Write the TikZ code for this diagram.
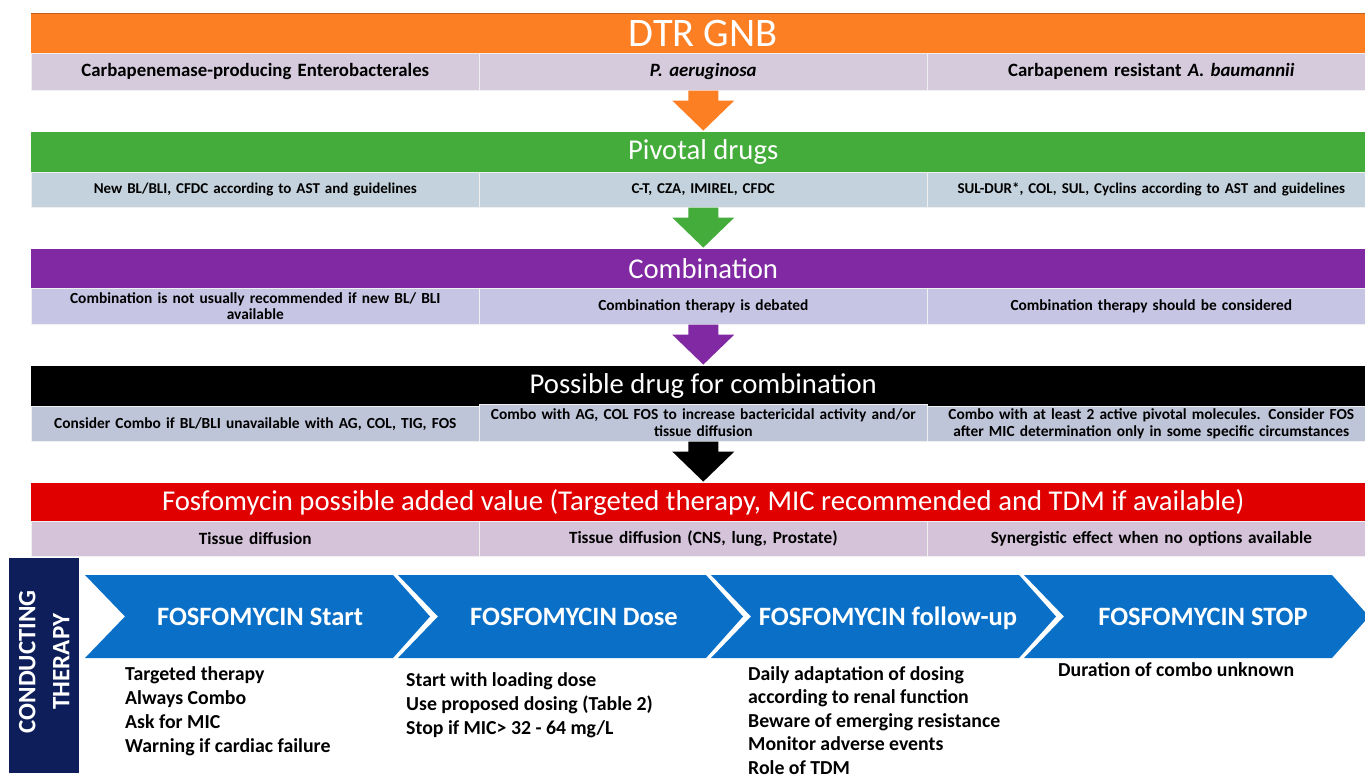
\documentclass[tikz,border=0pt]{standalone}
\usepackage{fontspec}
\setmainfont{Carlito}
\usetikzlibrary{calc}
\definecolor{corange}{HTML}{FD7F23}
\definecolor{cgreen}{HTML}{43AC3A}
\definecolor{cpurple}{HTML}{8029A2}
\definecolor{cred}{HTML}{E00000}
\definecolor{crowa}{HTML}{D5CBDD}
\definecolor{crowb}{HTML}{C3D2DC}
\definecolor{crowc}{HTML}{C6C5E3}
\definecolor{crowd}{HTML}{BFC5D9}
\definecolor{crowe}{HTML}{D5C3DA}
\definecolor{cblue}{HTML}{0A70C7}
\definecolor{cnavy}{HTML}{0D1E5B}
\begin{document}
\begin{tikzpicture}[x=1pt,y=-1pt,
  band/.style={anchor=north west, minimum width=1344, minimum height=#1, inner sep=0, text=white, font=\fontsize{28.7}{30}\selectfont},
  cell/.style={anchor=north west, minimum width=448, minimum height=#1, inner sep=0, align=center, text width=446, draw=white!70!gray!40, line width=0.6, font=\bfseries\fontsize{15.4}{16.5}\selectfont},
  chevtext/.style={anchor=base, text=white, font=\bfseries\fontsize{26.5}{30}\selectfont, inner sep=0},
  listtext/.style={anchor=north west, align=left, inner sep=0, font=\bfseries\fontsize{19.8}{24}\selectfont},
  pics/downarrow/.style={code={\fill[#1] (-15,0) -- (15,0) -- (15,10) -- (31,10) -- (0,40) -- (-31,10) -- (-15,10) -- cycle;}},
  pics/chevron/.style={code={\fill[cblue] (0,0) -- (308,0) -- (345,41.5) -- (308,83) -- (0,83) -- (40,41.5) -- cycle;}}
]
\useasboundingbox (0,0) rectangle (1365,778);

% Row 1
\node[band=40, fill=corange, font=\fontsize{40.5}{42}\selectfont] (b1) at (31,13) {DTR GNB};
\draw[corange!75!black, line width=0.8] (b1.north west) -- (b1.north east);
\node[cell=37, fill=crowa, font=\bfseries\fontsize{18.8}{20}\selectfont] (r1a) at (31,53) {Carbapenemase-producing Enterobacterales};
\node[cell=37, fill=crowa, font=\bfseries\fontsize{18.8}{20}\selectfont] (r1b) at (479,53) {\itshape P. aeruginosa};
\node[cell=37, fill=crowa, font=\bfseries\fontsize{18.8}{20}\selectfont] (r1c) at (927,53) {Carbapenem resistant \textit{A. baumannii}};
\pic at (r1b.south) {downarrow=corange};

% Row 2
\node[band=40, fill=cgreen] (b2) at (31,132) {Pivotal drugs};
\node[cell=35, fill=crowb, font=\bfseries\fontsize{15}{16}\selectfont] (r2a) at (31,172) {New BL/BLI, CFDC according to AST and guidelines};
\node[cell=35, fill=crowb, font=\bfseries\fontsize{15}{16}\selectfont] (r2b) at (479,172) {C-T, CZA, IMIREL, CFDC};
\node[cell=35, fill=crowb, font=\bfseries\fontsize{15}{16}\selectfont] (r2c) at (927,172) {SUL-DUR*, COL, SUL, Cyclins according to AST and guidelines};
\pic at (r2b.south) {downarrow=cgreen};

% Row 3
\node[band=39, fill=cpurple] (b3) at (31,249) {Combination};
\node[cell=36, fill=crowc] (r3a) at (31,288) {Combination is not usually recommended if new BL/ BLI\\available};
\node[cell=36, fill=crowc] (r3b) at (479,288) {Combination therapy is debated};
\node[cell=36, fill=crowc] (r3c) at (927,288) {Combination therapy should be considered};
\pic at (r3b.south) {downarrow=cpurple};

% Row 4
\node[band=40, fill=black] (b4) at (31,366) {Possible drug for combination};
\node[cell=35, fill=crowd] (r4a) at (31,406) {Consider Combo if BL/BLI unavailable with AG, COL, TIG, FOS};
\node[cell=37, fill=crowd] (r4b) at (479,404) {Combo with AG, COL FOS to increase bactericidal activity and/or\\tissue diffusion};
\node[cell=35, fill=crowd] (r4c) at (927,406) {Combo with at least 2 active pivotal molecules. Consider FOS\\after MIC determination only in some specific circumstances};
\pic at (r4b.south) {downarrow=black};

% Row 5
\node[band=38, fill=cred] (b5) at (31,483) {Fosfomycin possible added value (Targeted therapy, MIC recommended and TDM if available)};
\node[cell=35, fill=crowe, font=\bfseries\fontsize{17.2}{18}\selectfont] (r5a) at (31,521) {Tissue diffusion};
\node[cell=35, fill=crowe, font=\bfseries\fontsize{17.2}{18}\selectfont] (r5b) at (479,521) {Tissue diffusion (CNS, lung, Prostate)};
\node[cell=35, fill=crowe, font=\bfseries\fontsize{17.2}{18}\selectfont] (r5c) at (927,521) {Synergistic effect when no options available};

% Conducting therapy
\node[fill=cnavy, minimum width=70, minimum height=215, inner sep=0, anchor=north west] (ct) at (9,558) {};
\node[rotate=90, align=center, inner sep=0, text=white, font=\bfseries\fontsize{25}{34}\selectfont] (ctt) at ([yshift=4]ct.center) {CONDUCTING\\THERAPY};

% Chevrons
\pic at (85,575) {chevron};
\pic at (398,575) {chevron};
\pic at (711,575) {chevron};
\pic at (1024,575) {chevron};
\node[chevtext] (s1) at (260,625) {FOSFOMYCIN Start};
\node[chevtext] (s2) at (574,625) {FOSFOMYCIN Dose};
\node[chevtext] (s3) at (888,625) {FOSFOMYCIN follow-up};
\node[chevtext] (s4) at (1203,625) {FOSFOMYCIN STOP};

% Lists
\node[listtext] (l1) at (125,666) {Targeted therapy\\Always Combo\\Ask for MIC\\Warning if cardiac failure};
\node[listtext] (l2) at (406,672) {Start with loading dose\\Use proposed dosing (Table 2)\\Stop if MIC> 32 - 64 mg/L};
\node[listtext, font=\bfseries\fontsize{19.8}{23.6}\selectfont] (l3) at (748,666) {Daily adaptation of dosing\\according to renal function\\Beware of emerging resistance\\Monitor adverse events\\Role of TDM};
\node[listtext] (l4) at (1058,662) {Duration of combo unknown};
\end{tikzpicture}
\end{document}
